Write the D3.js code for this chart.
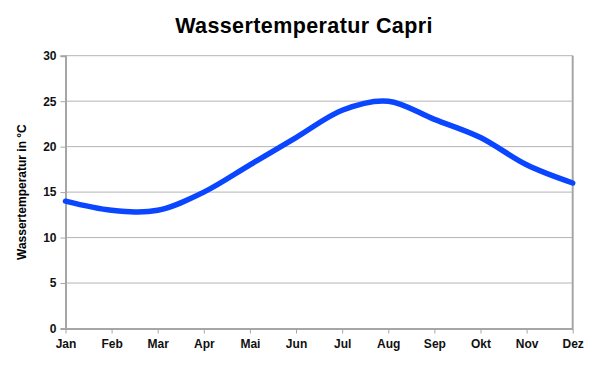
<!DOCTYPE html>
<html><head><meta charset="utf-8">
<script src="https://cdn.jsdelivr.net/npm/d3@7"></script>
<style>body{margin:0;background:#fff}svg{display:block}</style>
</head><body>
<svg id="c" width="596" height="368"></svg>
<script>
const months = ["Jan","Feb","Mar","Apr","Mai","Jun","Jul","Aug","Sep","Okt","Nov","Dez"];
const temps = [14,13,13,15,18,21,24,25,23,21,18,16];
const yTicks = [0,5,10,15,20,25,30];
const title = "Wassertemperatur Capri";
const yTitle = "Wassertemperatur in °C";

const svg = d3.select("#c");
const L = 65.5, R = 572.7, T = 55.7, B = 328.5;
const x = d3.scalePoint().domain(months).range([L, R]);
const y = d3.scaleLinear().domain([0,30]).range([B, T]);
const font = "Liberation Sans, Arial, sans-serif";

// gridlines
svg.append("g").selectAll("line").data(yTicks.filter(d=>d>0)).join("line")
  .attr("x1", L).attr("x2", R).attr("y1", d=>y(d)).attr("y2", d=>y(d))
  .attr("stroke", "#b4b4b4").attr("stroke-width", 1);

// right border
svg.append("line").attr("x1", R).attr("x2", R).attr("y1", T).attr("y2", B)
  .attr("stroke", "#a6a6a6").attr("stroke-width", 2);

// y axis
const ya = svg.append("g").attr("transform", `translate(${L},0)`)
  .call(d3.axisLeft(y).tickValues(yTicks).tickSize(5).tickPadding(4));
ya.select(".domain").attr("stroke", "#a6a6a6").attr("stroke-width", 2);
ya.selectAll(".tick line").attr("stroke", "#a6a6a6").attr("stroke-width", 1);
ya.selectAll(".tick text").attr("font-family", font).attr("font-size", 12)
  .attr("font-weight", "bold").attr("fill", "#111");

// x axis
const xa = svg.append("g").attr("transform", `translate(0,${B})`)
  .call(d3.axisBottom(x).tickSize(5).tickPadding(6).tickSizeOuter(0));
xa.select(".domain").attr("stroke", "#a6a6a6").attr("stroke-width", 2);
xa.selectAll(".tick line").attr("stroke", "#a6a6a6").attr("stroke-width", 1);
xa.selectAll(".tick text").attr("font-family", font).attr("font-size", 12)
  .attr("font-weight", "bold").attr("fill", "#111");

// line
const line = d3.line().x((d,i)=>x(months[i])).y(d=>y(d)).curve(d3.curveCardinal.tension(0));
svg.append("path").datum(temps).attr("d", line)
  .attr("fill", "none").attr("stroke", "#0a46ff").attr("stroke-width", 5.5)
  .attr("stroke-linejoin", "round").attr("stroke-linecap", "round");

// title
svg.append("text").attr("x", 304).attr("y", 33).attr("text-anchor", "middle")
  .attr("font-family", font).attr("font-size", 21.5).attr("font-weight", "bold")
  .attr("letter-spacing", 0.4).attr("fill", "#000").text(title);

// y title
svg.append("text").attr("transform", `translate(26,${(T+B)/2}) rotate(-90)`)
  .attr("text-anchor", "middle").attr("font-family", font).attr("font-size", 12)
  .attr("font-weight", "bold").attr("fill", "#000").text(yTitle);
</script>
</body></html>
